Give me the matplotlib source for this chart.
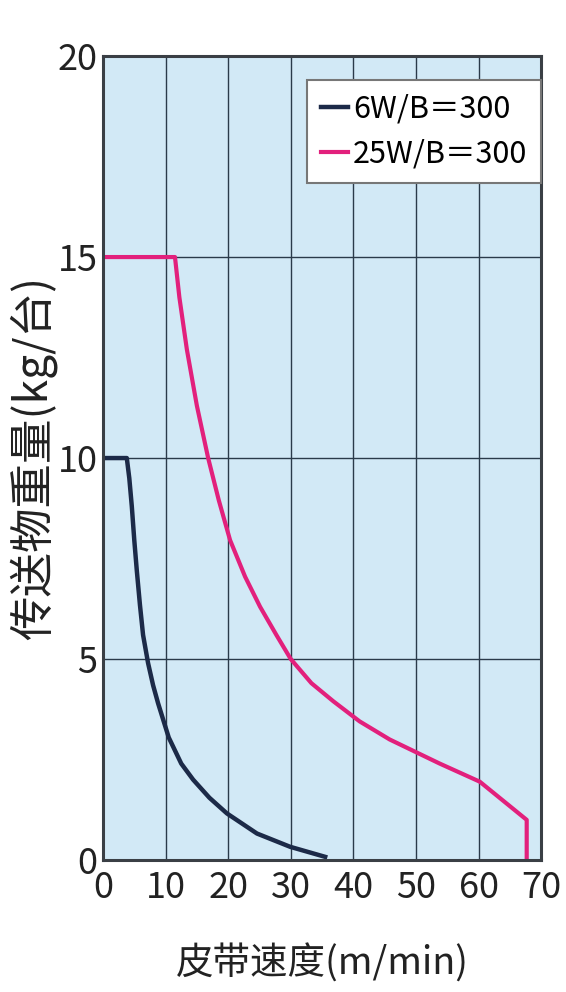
import matplotlib.pyplot as plt

plt.rcParams['font.family'] = ['Noto Sans CJK SC', 'DejaVu Sans']

# 6W/B=300
speed_6w = [0, 3.8, 4.2, 4.6, 5.0, 5.4, 5.9, 6.4, 7.2, 8.0, 8.8, 10.5, 12.5, 14.4, 17, 19.8,
            24.6, 29.9, 35.5]
load_6w = [10, 10, 9.5, 8.8, 7.95, 7.2, 6.35, 5.6, 4.9, 4.35, 3.9, 3.05, 2.4, 2.0, 1.55, 1.16,
           0.66, 0.33, 0.08]

# 25W/B=300
speed_25w = [0, 11.5, 12.2, 13.4, 15.0, 16.8, 18.5, 20.3, 22.7, 25.1, 27.7, 30.0, 33.3, 36.8,
             41.0, 45.8, 53.8, 60.2, 67.7, 67.7]
load_25w = [15, 15, 14.0, 12.7, 11.3, 10.0, 8.95, 7.96, 7.05, 6.3, 5.6, 5.0, 4.4, 3.95,
            3.45, 3.0, 2.4, 1.95, 1.0, 0]

labels = ['6W/B＝300', '25W/B＝300']
xticks = [0, 10, 20, 30, 40, 50, 60, 70]
yticks = [0, 5, 10, 15, 20]

fig = plt.figure(figsize=(5.66, 9.92), dpi=100)
ax = fig.add_axes([0.182, 0.133, 0.774, 0.8105])
ax.set_facecolor('#d2e9f6')

ax.plot(speed_6w, load_6w, color='#1c2a48', lw=3.2, label=labels[0], solid_joinstyle='round')
ax.plot(speed_25w, load_25w, color='#e2207c', lw=3.0, label=labels[1], solid_joinstyle='round')

ax.set_xlim(0, 70)
ax.set_ylim(0, 20)
ax.set_xticks(xticks)
ax.set_yticks(yticks)
ax.grid(True, color='#2a3a4a', lw=1.0)
ax.set_axisbelow(True)
for s in ax.spines.values():
    s.set_color('#3a3f45')
    s.set_linewidth(2.2)
ax.tick_params(length=0, labelsize=26, colors='#222222')
ax.tick_params(axis='x', pad=7)
ax.tick_params(axis='y', pad=4)

ax.set_xlabel('皮带速度(m/min)', fontsize=27, color='#222222', labelpad=28)
ax.set_ylabel('传送物重量(kg/台)', fontsize=32, color='#222222', labelpad=0)

leg = ax.legend(loc='upper right', fontsize=22, frameon=True, fancybox=False,
                handlelength=0.9, handletextpad=0.15, borderpad=0.45,
                labelspacing=0.45, borderaxespad=0, bbox_to_anchor=(1.0, 0.97))
leg.get_frame().set_edgecolor('#777777')
leg.get_frame().set_linewidth(1.5)
leg.get_frame().set_facecolor('white')
leg.get_frame().set_alpha(1)

fig.savefig('out.png', dpi=100)
